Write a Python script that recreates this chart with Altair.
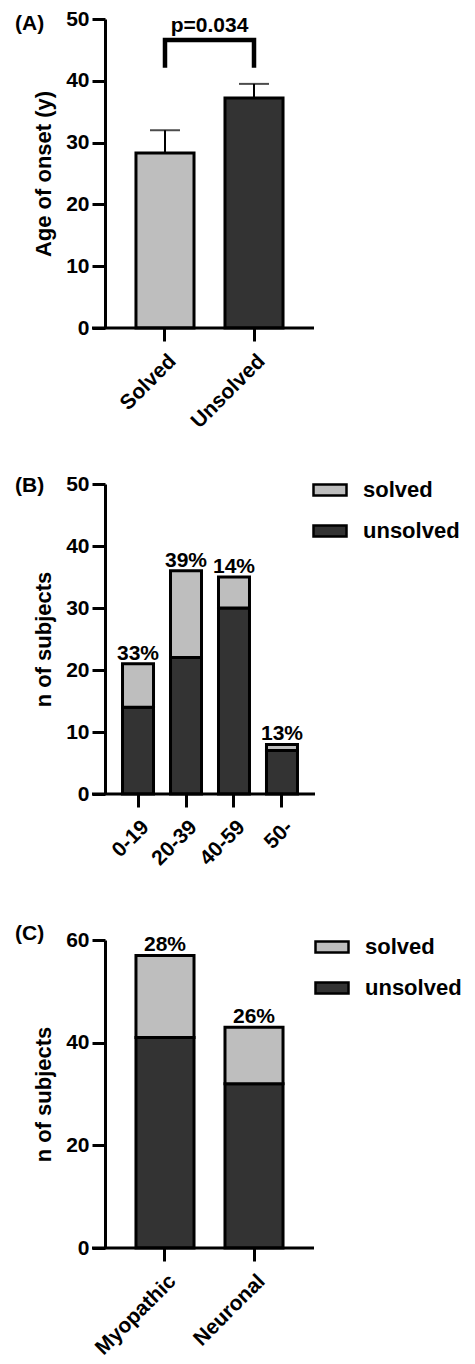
import altair as alt
import pandas as pd

FONT = "Liberation Sans"
LIGHT = "#bebebe"
DARK = "#333333"

# ---------------- Panel A data ----------------
a_groups = ["Solved", "Unsolved"]
a_means = [28.3, 37.2]
a_err = [3.7, 2.3]
bracket_x = ["Solved", "Solved", "Unsolved", "Unsolved"]
bracket_y = [42.1, 46.6, 46.6, 42.1]
p_label = "p=0.034"

# ---------------- Panel B data ----------------
b_groups = ["0-19", "20-39", "40-59", "50-"]
b_solved = [7, 14, 5, 1]
b_unsolved = [14, 22, 30, 7]

# ---------------- Panel C data ----------------
c_groups = ["Myopathic", "Neuronal"]
c_solved = [16, 11]
c_unsolved = [41, 32]

status = ["solved", "unsolved"]

# layout (style) values
WA, HA = 209, 309
WB, HB = 210, 310
WC, HC = 209, 308
PI_AC, PO_AC = 0.348, 0.348
PI_B, PO_B = 0.354, 0.365

legend_path = "M-1,-0.333L1,-0.333L1,0.333L-1,0.333Z"


def y_axis(title, values):
    return alt.Axis(title=title, values=values, titlePadding=10, domainWidth=3,
                    tickWidth=3, tickSize=13, labelPadding=3)


def x_axis():
    return alt.Axis(title=None, labelAngle=-45, domain=False, tickWidth=3,
                    tickSize=13, labelPadding=9)


def baseline_rule(width):
    return alt.Chart(pd.DataFrame({"z": [0]})).mark_rule(
        color="black", strokeWidth=3).encode(
        y=alt.datum(0), x=alt.value(-13), x2=alt.value(width))


def panel_label(text, ypos):
    return alt.Chart(pd.DataFrame({"t": [text]})).mark_text(
        align="left", baseline="middle", font=FONT, fontSize=21,
        fontWeight="bold", color="black").encode(
        text="t:N", x=alt.value(-90), y=alt.value(ypos))


# ---------------- Panel A ----------------
dfa = pd.DataFrame({"group": a_groups, "mean": a_means,
                    "upper": [m + e for m, e in zip(a_means, a_err)]})
xa = alt.X("group:N", sort=a_groups,
           scale=alt.Scale(domain=a_groups, paddingInner=PI_AC, paddingOuter=PI_AC),
           axis=x_axis())
ya_scale = alt.Scale(domain=[0, 50], nice=False)

bars_a = alt.Chart(dfa).mark_bar(stroke="black", strokeWidth=3).encode(
    x=xa,
    y=alt.Y("mean:Q", scale=ya_scale, axis=y_axis("Age of onset (y)", [0, 10, 20, 30, 40, 50])),
    color=alt.Color("group:N", scale=alt.Scale(domain=a_groups, range=[LIGHT, DARK]), legend=None),
)
err_a = alt.Chart(dfa).mark_rule(color="black", strokeWidth=2).encode(
    x=xa, y=alt.Y("mean:Q", scale=ya_scale), y2="upper:Q")
cap_a = alt.Chart(dfa).mark_tick(color="black", thickness=2, size=30, orient="horizontal").encode(
    x=xa, y=alt.Y("upper:Q", scale=ya_scale))

dfbr = pd.DataFrame({"bx": bracket_x, "by": bracket_y, "o": [0, 1, 2, 3]})
bracket = alt.Chart(dfbr).mark_line(color="black", strokeWidth=4.5, strokeCap="butt",
                                    strokeJoin="miter").encode(
    x=alt.X("bx:N", sort=a_groups), y=alt.Y("by:Q", scale=ya_scale), order="o:Q")

step_a = WA / (2 - PI_AC + 2 * PO_AC)
p_df = pd.DataFrame({"bx": ["Solved"], "by": [max(bracket_y)], "t": [p_label]})
p_text = alt.Chart(p_df).mark_text(font=FONT, fontSize=21, fontWeight="bold", color="black",
                                   baseline="alphabetic", dx=step_a / 2, dy=-8).encode(
    x=alt.X("bx:N", sort=a_groups), y=alt.Y("by:Q", scale=ya_scale), text="t:N")

chart_a = alt.layer(bars_a, err_a, cap_a, bracket, p_text, baseline_rule(WA),
                    panel_label("(A)", 5)).properties(width=WA, height=HA)


# ---------------- Stacked panels ----------------
def stacked(groups, solved, unsolved, W, H, pi, po, ydom, yvals, lab, lab_y, leg_x, leg_y):
    rows = []
    for g, s, u in zip(groups, solved, unsolved):
        rows.append({"group": g, "status": "unsolved", "n": u, "rank": 0})
        rows.append({"group": g, "status": "solved", "n": s, "rank": 1})
    df = pd.DataFrame(rows)
    tot = pd.DataFrame({
        "group": groups,
        "total": [s + u for s, u in zip(solved, unsolved)],
        "pct": [f"{int(s * 100 / (s + u) + 0.5)}%" for s, u in zip(solved, unsolved)],
    })
    x = alt.X("group:N", sort=groups,
              scale=alt.Scale(domain=groups, paddingInner=pi, paddingOuter=po),
              axis=x_axis())
    ysc = alt.Scale(domain=ydom, nice=False)
    bars = alt.Chart(df).mark_bar(stroke="black", strokeWidth=3).encode(
        x=x,
        y=alt.Y("n:Q", stack="zero", scale=ysc, axis=y_axis("n of subjects", yvals)),
        color=alt.Color("status:N", scale=alt.Scale(domain=status, range=[LIGHT, DARK]),
                        legend=alt.Legend(orient="none", legendX=leg_x, legendY=leg_y, title=None,
                                          symbolType=legend_path, symbolSize=1089,
                                          symbolStrokeColor="black", symbolStrokeWidth=2.5,
                                          symbolOpacity=1,
                                          labelFont=FONT, labelFontSize=22, labelFontWeight="bold",
                                          labelColor="black", labelOffset=15, rowPadding=12)),
        order=alt.Order("rank:Q"),
    )
    txt = alt.Chart(tot).mark_text(font=FONT, fontSize=21, fontWeight="bold", color="black",
                                   baseline="alphabetic", dy=-4).encode(
        x=x, y=alt.Y("total:Q", scale=ysc), text="pct:N")
    return alt.layer(bars, txt, baseline_rule(W), panel_label(lab, lab_y)).properties(
        width=W, height=H)


chart_b = stacked(b_groups, b_solved, b_unsolved, WB, HB, PI_B, PO_B, [0, 50],
                  [0, 10, 20, 30, 40, 50], "(B)", 2, 207, -12)
chart_c = stacked(c_groups, c_solved, c_unsolved, WC, HC, PI_AC, PO_AC, [0, 60],
                  [0, 20, 40, 60], "(C)", -6, 209, -11)

top_pair = alt.vconcat(chart_a, chart_b, spacing=40).resolve_scale(
    color="independent", x="independent", y="independent"
).resolve_legend(color="independent")

chart = alt.vconcat(top_pair, chart_c, spacing=54).resolve_scale(
    color="independent", x="independent", y="independent"
).resolve_legend(color="independent").properties(
    padding={"left": 7, "top": 0, "right": 0, "bottom": 0}
).configure_view(stroke=None).configure_axis(
    domainColor="black", tickColor="black", labelColor="black", titleColor="black",
    labelFont=FONT, titleFont=FONT, labelFontSize=21, titleFontSize=22,
    labelFontWeight="bold", titleFontWeight="bold", grid=False,
)

chart.save("out.html", embed_options={"renderer": "svg", "actions": False})
